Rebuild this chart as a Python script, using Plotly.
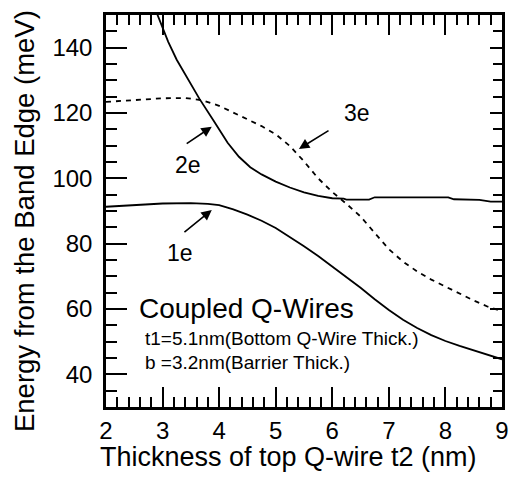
import plotly.graph_objects as go

# Energy levels of coupled quantum wires vs. top-wire thickness
t2_1e = [2.0, 2.5, 3.0, 3.5, 3.8, 4.0, 4.25, 4.5, 4.75, 5.0, 5.25, 5.5, 5.75, 6.0,
         6.25, 6.5, 6.75, 7.0, 7.25, 7.5, 7.75, 8.0, 8.25, 8.5, 8.75, 9.0]
e_1e = [91.3, 91.7, 92.3, 92.4, 92.2, 91.8, 90.5, 88.9, 87.0, 84.8, 82.1, 79.2, 76.2, 73.0,
        69.9, 66.5, 63.0, 59.7, 56.7, 54.2, 52.0, 50.2, 48.7, 47.3, 45.9, 44.6]

t2_2e = [2.9, 3.0, 3.1, 3.25, 3.45, 3.65, 3.9, 4.15, 4.35, 4.55, 4.75, 5.0, 5.25, 5.5,
         5.75, 6.0, 6.2, 6.25, 6.65, 6.75, 8.05, 8.15, 8.6, 8.8, 9.0]
e_2e = [150.5, 146.2, 141.8, 136.3, 130.3, 124.4, 117.7, 110.9, 106.6, 103.4, 101.2, 99.0, 97.2, 95.7,
        94.6, 93.9, 93.8, 93.5, 93.5, 94.2, 94.2, 93.6, 93.4, 92.9, 92.9]

t2_3e = [2.0, 2.5, 3.0, 3.4, 3.7, 4.0, 4.25, 4.5, 4.75, 5.0, 5.25, 5.5, 5.75, 6.0,
         6.25, 6.5, 6.75, 7.0, 7.25, 7.5, 7.75, 8.0, 8.25, 8.5, 8.75, 9.0]
e_3e = [123.4, 123.9, 124.5, 124.6, 123.9, 122.2, 120.1, 118.1, 116.0, 113.5, 109.9, 105.2, 100.0, 95.8,
        92.2, 88.3, 83.2, 78.3, 74.5, 71.5, 69.0, 66.8, 64.7, 62.6, 60.7, 59.3]

x_ticks = [2, 3, 4, 5, 6, 7, 8, 9]
y_ticks = [40, 60, 80, 100, 120, 140]

# level labels: (text, label x, label y, arrow tip x, arrow tip y, arrow tail x, arrow tail y)
level_labels = [
    ("1e", 3.31, 77.1, 3.87, 90.3, 3.36, 83.2),
    ("2e", 3.45, 104.1, 3.87, 115.8, 3.40, 110.3),
    ("3e", 6.44, 120.1, 5.41, 109.0, 5.96, 114.9),
]

FONT = "Liberation Sans, Arial, Helvetica, sans-serif"
X_RANGE = [2, 9]
Y_RANGE = [30, 150]

fig = go.Figure()
fig.add_trace(go.Scatter(x=t2_1e, y=e_1e, mode="lines",
                         line=dict(color="black", width=1.8), showlegend=False))
fig.add_trace(go.Scatter(x=t2_2e, y=e_2e, mode="lines",
                         line=dict(color="black", width=1.8), showlegend=False))
fig.add_trace(go.Scatter(x=t2_3e, y=e_3e, mode="lines",
                         line=dict(color="black", width=1.8, dash="5px,5px"), showlegend=False))
# carrier trace for the right-hand tick axis
fig.add_trace(go.Scatter(x=X_RANGE, y=Y_RANGE, yaxis="y2", mode="lines",
                         line=dict(width=0), hoverinfo="skip", showlegend=False))

for text, lx, ly, hx, hy, tx, ty in level_labels:
    fig.add_annotation(x=lx, y=ly, text=text, showarrow=False,
                       font=dict(family=FONT, size=23, color="black"))
    fig.add_annotation(x=hx, y=hy, ax=tx, ay=ty, xref="x", yref="y", axref="x", ayref="y",
                       text="", showarrow=True, arrowhead=2, arrowsize=1.3,
                       arrowwidth=1.6, arrowcolor="black")

fig.add_annotation(x=2.55, y=60.1, text="Coupled Q-Wires", showarrow=False, xanchor="left",
                   font=dict(family=FONT, size=28, color="black"))
fig.add_annotation(x=2.65, y=50.9, text="t1=5.1nm(Bottom Q-Wire Thick.)", showarrow=False,
                   xanchor="left", font=dict(family=FONT, size=19, color="black"))
fig.add_annotation(x=2.65, y=43.5, text="b =3.2nm(Barrier Thick.)", showarrow=False,
                   xanchor="left", font=dict(family=FONT, size=19, color="black"))

# axis titles
fig.add_annotation(x=0.462, y=-0.1276, xref="paper", yref="paper", showarrow=False,
                   xanchor="center", yanchor="middle",
                   text="Thickness of top Q-wire t2 (nm)",
                   font=dict(family=FONT, size=27, color="black"))
fig.add_annotation(x=-0.2045, y=0.4745, xref="paper", yref="paper", showarrow=False,
                   xanchor="center", yanchor="middle",
                   text="Energy from the Band Edge (meV)", textangle=-90,
                   font=dict(family=FONT, size=27.5, color="black"))

fig.update_layout(
    width=509, height=478,
    margin=dict(l=106, r=7, t=15, b=71),
    paper_bgcolor="white", plot_bgcolor="white",
    font=dict(family=FONT, color="black"),
    xaxis=dict(
        range=X_RANGE, tickvals=x_ticks, ticks="inside", ticklen=20, tickwidth=2,
        tickcolor="black", showline=True, linecolor="black", linewidth=2.5, mirror="ticks",
        showgrid=False, zeroline=False, tickfont=dict(size=24), automargin=False,
        ticklabeloverflow="allow", ticklabelstandoff=0,
        minor=dict(dtick=0.2, ticks="inside", ticklen=10, tickwidth=2, tickcolor="black",
                   showgrid=False),
    ),
    yaxis=dict(
        range=Y_RANGE, tickvals=y_ticks, ticks="inside", ticklen=21, tickwidth=2,
        tickcolor="black", showline=True, linecolor="black", linewidth=2.5, mirror=False,
        showgrid=False, zeroline=False, tickfont=dict(size=24), automargin=False,
        ticklabelstandoff=6,
        minor=dict(dtick=5, ticks="inside", ticklen=11, tickwidth=2, tickcolor="black",
                   showgrid=False),
    ),
    yaxis2=dict(
        range=Y_RANGE, overlaying="y", side="right", anchor="x", automargin=False,
        tickvals=y_ticks, ticks="inside", ticklen=12, tickwidth=2, tickcolor="black",
        showticklabels=False, showline=True, linecolor="black", linewidth=2.5,
        showgrid=False, zeroline=False,
        minor=dict(dtick=5, ticks="inside", ticklen=9, tickwidth=2, tickcolor="black",
                   showgrid=False),
    ),
)

fig.write_html("out.html")
